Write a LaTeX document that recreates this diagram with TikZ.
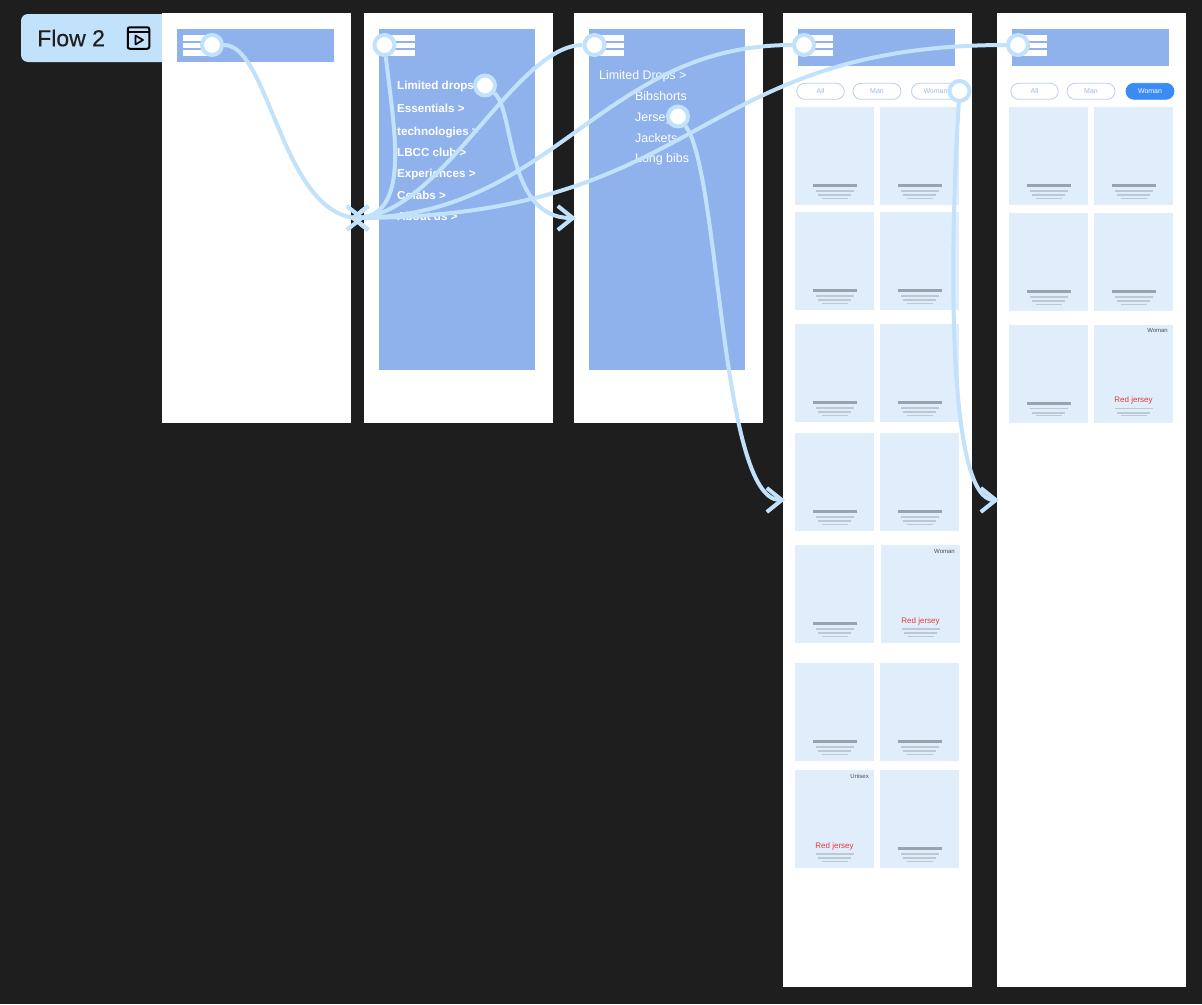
\documentclass[tikz,border=0pt]{standalone}
\usepackage{fontspec}
\setmainfont{Liberation Sans}
\usetikzlibrary{positioning,arrows.meta}
\definecolor{canvasdark}{HTML}{1E1E1E}
\definecolor{flowblue}{HTML}{C2E1FB}
\definecolor{panelblue}{HTML}{8FB2EC}
\definecolor{cardblue}{HTML}{E0EEFC}
\definecolor{barblue}{HTML}{9AA3AD}
\definecolor{lineblue}{HTML}{BCC9D5}
\definecolor{pillblue}{HTML}{9DB8EF}
\definecolor{activeblue}{HTML}{3B8BF5}
\definecolor{jerseyred}{HTML}{E53935}
\tikzset{
  framebox/.style={rectangle,fill=white,inner sep=0pt,outer sep=0pt,minimum width=189pt},
  panelbox/.style={rectangle,fill=panelblue,inner sep=0pt,outer sep=0pt,minimum width=156.5pt},
  burgerbar/.style={rectangle,fill=white,inner sep=0pt,outer sep=0pt,minimum width=31pt,minimum height=5.5pt},
  cardbox/.style={rectangle,fill=cardblue,inner sep=0pt,outer sep=0pt,minimum width=79pt,minimum height=98pt},
  darkbar/.style={rectangle,fill=barblue,inner sep=0pt,outer sep=0pt,minimum width=44pt,minimum height=3pt},
  thinbar/.style={rectangle,fill=lineblue,inner sep=0pt,outer sep=0pt,minimum width=#1,minimum height=1.2pt},
  midbar/.style={rectangle,fill=lineblue,inner sep=0pt,outer sep=0pt,minimum width=33pt,minimum height=1.8pt},
  menubold/.style={anchor=west,inner sep=0pt,text=white,text height=8.5pt,text depth=2.5pt,font=\fontsize{11.6}{14}\selectfont\bfseries},
  menuthin/.style={anchor=west,inner sep=0pt,text=white,text height=8.5pt,text depth=2.5pt,font=\fontsize{12.4}{14}\selectfont},
  pillbox/.style={rectangle,rounded corners=8pt,draw=pillblue!70,line width=0.8pt,fill=white,text=pillblue,inner sep=0pt,minimum height=16pt,font=\fontsize{7}{8}\selectfont},
  pillactive/.style={pillbox,draw=activeblue,fill=activeblue,text=white},
  hotspot/.style={circle,draw=flowblue,fill=white,line width=4pt,inner sep=0pt,minimum size=20pt},
  wire/.style={draw=flowblue,line width=4pt,-{Straight Barb[length=15pt,width=24pt,line width=4pt]}},
  redlabel/.style={text=jerseyred,inner sep=0pt,font=\fontsize{8}{9}\selectfont},
  taglabel/.style={text=black!70,inner sep=0pt,anchor=north east,font=\fontsize{6}{7}\selectfont},
}
% one card with its text lines
\newcommand{\plaincard}[3]{
  \node[cardbox] (#1) at (#2,#3) {};
  \node[darkbar,above=17.8pt of #1.south,anchor=south] (#1bar) {};
  \node[thinbar=38pt,above=13.4pt of #1.south,anchor=south] (#1one) {};
  \node[midbar,above=9pt of #1.south,anchor=south] (#1two) {};
  \node[thinbar=26pt,above=6.1pt of #1.south,anchor=south] (#1three) {};
}
\newcommand{\redcard}[4]{
  \node[cardbox] (#1) at (#2,#3) {};
  \node[redlabel,above=22pt of #1.south,anchor=center] (#1red) {Red jersey};
  \node[taglabel,below left=4pt and 5pt of #1.north east,anchor=north east] (#1tag) {#4};
  \node[thinbar=38pt,above=13.4pt of #1.south,anchor=south] (#1one) {};
  \node[midbar,above=9pt of #1.south,anchor=south] (#1two) {};
  \node[thinbar=26pt,above=6.1pt of #1.south,anchor=south] (#1three) {};
}
\newcommand{\burger}[3]{
  \node[burgerbar] (#1a) at (#2,#3) {};
  \node[burgerbar,below=2pt of #1a] (#1b) {};
  \node[burgerbar,below=2pt of #1b] (#1c) {};
}
\begin{document}
\begin{tikzpicture}[x=1pt,y=-1pt]
  \useasboundingbox[fill=canvasdark] (0,0) rectangle (1202,1004);

  % flow tag
  \node[rectangle,rounded corners=7pt,fill=flowblue,inner sep=0pt,minimum width=160pt,minimum height=48pt] (flowtag) at (101,38) {};
  \node[anchor=west,inner sep=0pt,text=canvasdark,font=\fontsize{23}{26}\selectfont\addfontfeature{FakeBold=0.4}] (flowname) at (37,38) {Flow 2};
  \node[rectangle,rounded corners=2pt,draw=black,line width=2pt,inner sep=0pt,minimum size=21.5pt] (playicon) at (138.5,38) {};
  \draw[black,line width=2pt] (playicon.west |- 0,32) -- (playicon.east |- 0,32);
  \draw[black,line width=1.7pt,line join=round] (135.5,35.5) -- (143,40) -- (135.5,44.5) -- cycle;

  % frames
  \node[framebox,minimum height=410pt] (homeframe) at (256.5,218) {};
  \node[framebox,minimum height=410pt] (menuframe) at (458.5,218) {};
  \node[framebox,minimum height=410pt] (subframe) at (668.5,218) {};
  \node[framebox,minimum height=974pt] (listframe) at (877.5,500) {};
  \node[framebox,minimum height=974pt] (womanframe) at (1091.5,500) {};

  % blue panels
  \node[panelbox,minimum height=33pt] (homepanel) at (255.5,45.5) {};
  \node[panelbox,minimum height=341pt] (menupanel) at (457,199.5) {};
  \node[panelbox,minimum height=341pt] (subpanel) at (667,199.5) {};
  \node[panelbox,minimum height=37pt] (listpanel) at (876.5,47.5) {};
  \node[panelbox,minimum height=37pt] (womanpanel) at (1090.5,47.5) {};
  \burger{homeburger}{198}{37.75}
  \burger{menuburger}{399}{37.75}
  \burger{subburger}{608.5}{37.75}
  \burger{listburger}{817.5}{37.75}
  \burger{womanburger}{1031.5}{37.75}

  % menu texts
  \node[menubold] (limited) at (397,86.5) {Limited drops >};
  \node[menubold] (essentials) at (397,109) {Essentials >};
  \node[menubold] (technologies) at (397,132) {technologies >};
  \node[menubold] (lbcc) at (397,153) {LBCC club >};
  \node[menubold] (experiences) at (397,174) {Experiences >};
  \node[menubold] (colabs) at (397,196) {Colabs >};
  \node[menubold] (about) at (397,217) {About us >};
  \node[menuthin] (drops) at (599,76.5) {Limited Drops >};
  \node[menuthin] (bibshorts) at (635,97) {Bibshorts};
  \node[menuthin] (jerseys) at (635,118) {Jerseys};
  \node[menuthin] (jackets) at (635,139) {Jackets};
  \node[menuthin] (longbibs) at (635,159.5) {Long bibs};

  % filter pills
  \node[pillbox,minimum width=47.5pt] (listall) at (820.5,91.3) {All};
  \node[pillbox,minimum width=48pt] (listman) at (877,91.3) {Man};
  \node[pillbox,minimum width=48pt] (listwoman) at (935.5,91.3) {Woman};
  \node[pillbox,minimum width=47.5pt] (womanall) at (1034.5,91.3) {All};
  \node[pillbox,minimum width=48pt] (womanman) at (1091,91.3) {Man};
  \node[pillactive,minimum width=48pt] (womanwoman) at (1150,91.3) {Woman};

  % list cards
  \foreach \rowname/\cy in {a/156,b/261,c/373,d/482,g/712}{
    \plaincard{list\rowname one}{834.5}{\cy}
    \plaincard{list\rowname two}{919.5}{\cy}
  }
  \plaincard{listeone}{834.5}{594}
  \redcard{listetwo}{920.5}{594}{Woman}
  \redcard{listhone}{834.5}{819}{Unisex}
  \plaincard{listhtwo}{919.5}{819}

  % woman cards
  \foreach \rowname/\cy in {a/156,b/262}{
    \plaincard{woman\rowname one}{1048.5}{\cy}
    \plaincard{woman\rowname two}{1133.5}{\cy}
  }
  \plaincard{womanceone}{1048.5}{373.5}
  \redcard{womancetwo}{1133.5}{373.5}{Woman}

  % targets and hotspots
  \coordinate (menuedge) at (365,218);
  \coordinate (homeedge) at (350,218);
  \coordinate (subedge) at (576,218);
  \coordinate (listedge) at (785,500);
  \coordinate (womanedge) at (999,500);
  \node[hotspot] (homehot) at (212,45) {};
  \node[hotspot] (menuhot) at (384.5,45) {};
  \node[hotspot] (limitedhot) at (485,85.5) {};
  \node[hotspot] (subhot) at (594.5,45) {};
  \node[hotspot] (jerseyhot) at (678,116.5) {};
  \node[hotspot] (listhot) at (804,45) {};
  \node[hotspot] (filterhot) at (959.5,91) {};
  \node[hotspot] (womanhot) at (1018,45) {};

  % wires
  \draw[wire] (homehot) .. controls (270,45) and (282,218) .. (menuedge);
  \draw[wire] (menuhot) .. controls (394,130) and (412,218) .. (homeedge);
  \draw[wire] (subhot) .. controls (515,45) and (440,218) .. (homeedge);
  \draw[wire] (listhot) .. controls (600,45) and (554,218) .. (homeedge);
  \draw[wire] (womanhot) .. controls (690,45) and (705,218) .. (homeedge);
  \draw[wire] (limitedhot) .. controls (515,110) and (505,218) .. (subedge);
  \draw[wire] (jerseyhot) .. controls (720,170) and (720,500) .. (listedge);
  \draw[wire] (filterhot) .. controls (948,280) and (950,500) .. (womanedge);
\end{tikzpicture}
\end{document}
